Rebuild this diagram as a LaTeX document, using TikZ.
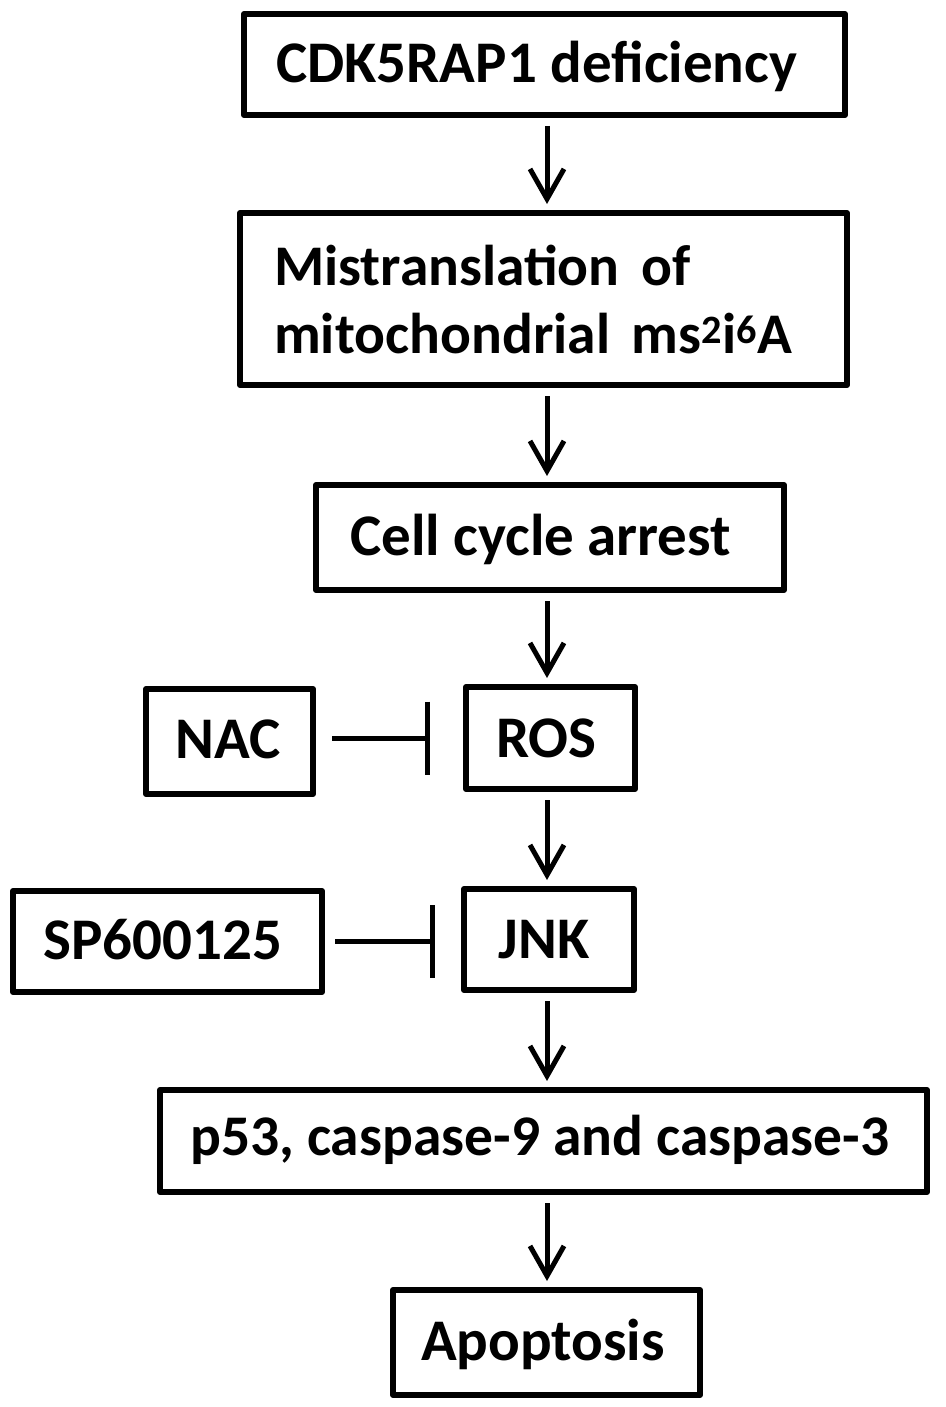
\documentclass[tikz,border=0pt]{standalone}
\usepackage{fontspec}
\setmainfont{Carlito}
\usetikzlibrary{arrows.meta}
\begin{document}
\begin{tikzpicture}[x=1pt,y=-1pt,
  box/.style={draw=black,line width=6pt,line join=round,fill=white,inner sep=0pt},
  txt/.style={font=\bfseries\fontsize{59}{65}\selectfont,inner sep=0pt},
  txts/.style={font=\bfseries\fontsize{57.5}{63}\selectfont,inner sep=0pt},
  arr/.style={line width=5pt,-{Straight Barb[length=30pt,width=34pt,line width=5pt]},shorten <=8pt,shorten >=6pt},
  inh/.style={line width=5pt,-{Bar[width=73pt,line width=5pt]}}]
\useasboundingbox[fill=white] (0,0) rectangle (945,1407);
\coordinate (axis) at (547,0);
% boxes
\node[box,minimum width=601pt,minimum height=101pt] (b1) at (544.5,64.5) {};
\node[box,minimum width=607pt,minimum height=172pt] (b2) at (543.5,299) {};
\node[box,minimum width=468pt,minimum height=105pt] (b3) at (550,537.5) {};
\node[box,minimum width=167pt,minimum height=105pt] (nac) at (229.5,741.5) {};
\node[box,minimum width=169pt,minimum height=102pt] (ros) at (550.5,738) {};
\node[box,minimum width=309pt,minimum height=101pt] (sp) at (167.5,941.5) {};
\node[box,minimum width=170pt,minimum height=101pt] (jnk) at (549,939.5) {};
\node[box,minimum width=767pt,minimum height=102pt] (p53) at (543.5,1141) {};
\node[box,minimum width=307pt,minimum height=105pt] (apo) at (546.5,1342.5) {};
% texts
\node[txt,anchor=base west] (t1) at (276,83) {CDK5RAP1 deficiency};
\node[txts,anchor=base west] (t2a) at (274,285) {Mistranslation\ \hspace{0.15em}of};
\node[txts,anchor=base west] (t2b) at (274,353) {mitochondrial\ \hspace{0.15em}ms\textsuperscript{2}i\textsuperscript{6}A};
\node[txt,anchor=base west] (t3) at (350,555) {Cell cycle arrest};
\node[txt,anchor=base] (t4) at (228,758) {NAC};
\node[txt,anchor=base] (t5) at (546.5,757) {ROS};
\node[txt,anchor=base] (t6) at (162.5,959) {SP600125};
\node[txt,anchor=base] (t7) at (544,958) {JNK};
\node[txts,anchor=base west] (t8) at (190,1155) {p53, caspase-9 and caspase-3};
\node[txt,anchor=base] (t9) at (543,1360) {Apoptosis};
% arrows
\draw[arr] (b1.south -| axis) -- (b2.north -| axis);
\draw[arr] (b2.south -| axis) -- (b3.north -| axis);
\draw[arr] (b3.south -| axis) -- (ros.north -| axis);
\draw[arr] (ros.south -| axis) -- (jnk.north -| axis);
\draw[arr] (jnk.south -| axis) -- (p53.north -| axis);
\draw[arr] (p53.south -| axis) -- (apo.north -| axis);
% inhibitions
\draw[inh,shorten <=16pt,shorten >=33pt] (nac.east |- ros) -- (ros.west);
\draw[inh,shorten <=10pt,shorten >=26pt] (sp.east) -- (sp.east -| jnk.west);
\end{tikzpicture}
\end{document}
